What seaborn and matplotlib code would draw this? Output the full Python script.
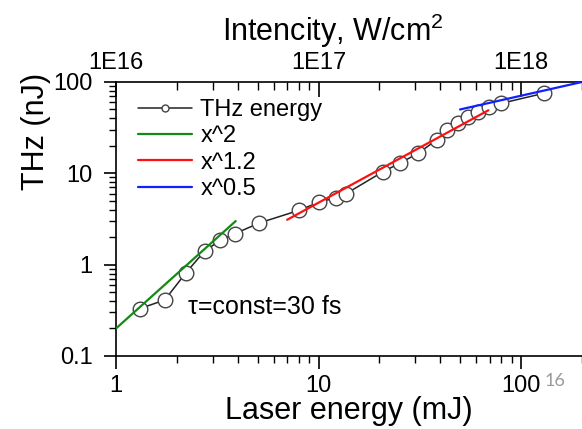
import numpy as np
import pandas as pd
import matplotlib
matplotlib.use("Agg")
import matplotlib.pyplot as plt
import matplotlib.ticker as mticker
import seaborn as sns

# datos
energia = [1.31, 1.74, 2.22, 2.74, 3.28, 3.86, 5.1, 8.0, 10.1, 12.2, 13.7,
           20.8, 25.2, 31.1, 38.3, 42.9, 49.1, 54.6, 61.2, 69.2, 79.9, 129.7]
thz = [0.33, 0.41, 0.82, 1.41, 1.85, 2.18, 2.86, 3.93, 4.85, 5.4, 6.0,
       10.4, 12.9, 16.6, 23.2, 29.8, 35.3, 41.0, 47.3, 53.7, 58.4, 75.2]

fit2_x = [1.0, 3.9]
fit2_y = [0.2, 3.0]
fit12_x = [7.0, 69.0]
fit12_y = [3.1, 49.0]
fit05_x = [50.0, 200.0]
fit05_y = [50.0, 100.0]

top_ticks = [1e16, 1e17, 1e18]
top_labels = ["1E16", "1E17", "1E18"]

sns.set_style("ticks")
plt.rcParams['font.family'] = ['Liberation Sans', 'DejaVu Sans']
plt.rcParams['mathtext.fontset'] = 'custom'
plt.rcParams['mathtext.rm'] = 'Liberation Sans'
plt.rcParams['mathtext.default'] = 'regular'
plt.rcParams['text.color'] = 'black'
plt.rcParams['axes.labelcolor'] = 'black'
plt.rcParams['xtick.color'] = 'black'
plt.rcParams['ytick.color'] = 'black'

df = pd.DataFrame({'energia': energia, 'thz': thz})

fig = plt.figure(figsize=(5.82, 4.29), dpi=100)
ax = fig.add_axes([0.1993, 0.1702, 0.8007, 0.6387])

sns.lineplot(x=fit2_x, y=fit2_y, ax=ax, color='#138a13', linewidth=1.6, label='x^2', zorder=3)
sns.lineplot(x=fit12_x, y=fit12_y, ax=ax, color='#ff1010', linewidth=1.6, label='x^1.2', zorder=3)
sns.lineplot(x=fit05_x, y=fit05_y, ax=ax, color='#1020ff', linewidth=1.6, label='x^0.5', zorder=3)
sns.lineplot(data=df, x='energia', y='thz', ax=ax, sort=False, color='#222222', linewidth=1.1,
             marker='o', markersize=10.5, markerfacecolor='white', markeredgecolor='#444444',
             markeredgewidth=1.0, label='THz energy', zorder=2)

ax.set_xscale('log')
ax.set_yscale('log')
ax.set_xlim(1, 200)
ax.set_ylim(0.1, 100)

ax.xaxis.set_major_formatter(mticker.FuncFormatter(lambda v, p: f"{v:g}"))
ax.yaxis.set_major_formatter(mticker.FuncFormatter(lambda v, p: f"{v:g}"))
ax.xaxis.set_minor_formatter(mticker.NullFormatter())
ax.yaxis.set_minor_formatter(mticker.NullFormatter())

for s in ['left', 'bottom']:
    ax.spines[s].set_linewidth(1.2)
    ax.spines[s].set_color('black')
ax.spines['top'].set_visible(False)
ax.spines['right'].set_visible(False)

ax.tick_params(axis='both', which='major', direction='out', length=9, width=1.2,
               labelsize=17, color='black', labelcolor='black')
ax.tick_params(axis='both', which='minor', direction='out', length=5, width=1.0, color='black')
ax.tick_params(axis='x', which='major', pad=5)
ax.tick_params(axis='y', which='major', pad=8)

ax.set_xlabel('Laser energy (mJ)', fontsize=22, labelpad=-1)
ax.set_ylabel('THz (nJ)', fontsize=22)
ax.yaxis.set_label_coords(-0.14, 0.82)

# eje superior de intensidad
sec = ax.secondary_xaxis('top', functions=(lambda x: x * 1e16, lambda x: x / 1e16))
sec.set_xticks(top_ticks)
sec.set_xticklabels(top_labels)
sec.xaxis.set_minor_formatter(mticker.NullFormatter())
sec.spines['top'].set_linewidth(1.2)
sec.spines['top'].set_color('black')
sec.tick_params(which='major', direction='in', length=11, width=1.2, labelsize=17, pad=6,
                color='black', labelcolor='black')
sec.tick_params(which='minor', direction='in', length=6, width=1.0, color='black')

# titulo del eje superior
ax.text(0.465, 1.15, 'Intencity, W/cm$^{2}$', transform=ax.transAxes, fontsize=22,
        ha='center', va='baseline')

ax.text(2.28, 0.34, 'τ=const=30 fs', fontsize=18, ha='left', va='center')

handles, labels = ax.get_legend_handles_labels()
orden = [labels.index(l) for l in ['THz energy', 'x^2', 'x^1.2', 'x^0.5']]
leg = ax.legend([handles[i] for i in orden], [labels[i] for i in orden],
                loc='upper left', bbox_to_anchor=(0.047, 0.937), frameon=False,
                fontsize=17, handlelength=2.3, handletextpad=0.35, labelspacing=0.18,
                borderpad=0, borderaxespad=0)
leg.legend_handles[0].set_markersize(5)

fig.text(0.936, 0.112, '16', fontsize=13, color='#9a9a9a', family='Lato', va='center')

plt.savefig("out.png", dpi=100)
